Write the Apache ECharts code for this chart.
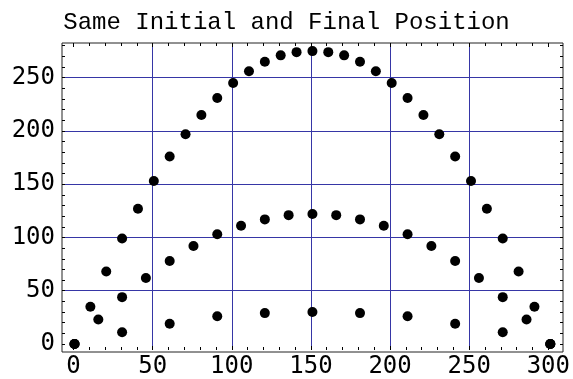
<!doctype html>
<html>
    <head>
        <meta charset="utf-8">
        <style>
            html, body { margin: 0; padding: 0; background: #fff; }
            #main { width: 573px; height: 379px; }
        </style>
    </head>
    <body>
        <div id="main"></div>
        <script src="https://cdn.jsdelivr.net/npm/echarts@6/dist/echarts.min.js"></script>
        <script>
            var chart = echarts.init(document.getElementById('main'));

            var title = 'Same Initial and Final Position';

            // high throw, one dot every 10 m
            var highX = [0, 10, 20, 30, 40, 50, 60, 70, 80, 90, 100, 110, 120, 130, 140, 150,
                160, 170, 180, 190, 200, 210, 220, 230, 240, 250, 260, 270, 280, 290, 300];
            var highY = [0, 35, 68, 99, 127, 153, 176, 197, 215, 231, 245, 256, 265, 271, 274, 275,
                274, 271, 265, 256, 245, 231, 215, 197, 176, 153, 127, 99, 68, 35, 0];

            // middle throw, every 15 m
            var midX = [0, 15, 30, 45, 60, 75, 90, 105, 120, 135, 150,
                165, 180, 195, 210, 225, 240, 255, 270, 285, 300];
            var midY = [0, 23, 44, 62, 78, 92, 103, 111, 117, 121, 122,
                121, 117, 111, 103, 92, 78, 62, 44, 23, 0];

            // low throw, every 30 m
            var lowX = [0, 30, 60, 90, 120, 150, 180, 210, 240, 270, 300];
            var lowY = [0, 11, 19, 26, 29, 30, 29, 26, 19, 11, 0];

            var xTicks = [0, 50, 100, 150, 200, 250, 300];
            var yTicks = [0, 50, 100, 150, 200, 250];

            // plot range of the frame (a bit wider than the data)
            var X_MIN = -7.9, X_MAX = 308;
            var Y_MIN = -7.5, Y_MAX = 282.6;
            var Y_TOP_TICK = 280;

            var FONT = 'DejaVu Sans Mono';
            var GRID_COLOR = '#3636a6';

            function pairs(xs, ys) {
                return xs.map(function (x, i) { return [x, ys[i]]; });
            }

            // one split line per 10 units on y, coloured only at the labelled values
            var yLineColors = [];
            for (var v = 0; v <= Y_TOP_TICK; v += 10) {
                yLineColors.push(yTicks.indexOf(v) > 0 ? GRID_COLOR : 'rgba(0,0,0,0)');
            }

            var tickStyle = { color: '#000', width: 1 };

            function dotSeries(xs, ys) {
                return {
                    type: 'scatter',
                    xAxisIndex: 0,
                    yAxisIndex: 0,
                    data: pairs(xs, ys),
                    symbol: 'circle',
                    symbolSize: 10,
                    clip: false,
                    silent: true,
                    itemStyle: { color: '#000', opacity: 1 },
                    z: 5
                };
            }

            chart.setOption({
                animation: false,
                backgroundColor: '#fff',
                title: {
                    text: title,
                    left: 'center',
                    top: 6,
                    textStyle: {
                        fontFamily: 'Liberation Mono',
                        fontSize: 24,
                        fontWeight: 'normal',
                        color: '#000'
                    }
                },
                grid: [
                    // frame + data
                    { left: 62, right: 10, top: 43, bottom: 27, show: true,
                      borderColor: '#222', borderWidth: 1, backgroundColor: 'transparent' },
                    // x ticks / vertical lines, spans 0..300
                    { left: 73.5, right: 22.7, top: 43, bottom: 27 },
                    // y ticks / horizontal lines, spans 0..280
                    { left: 62, right: 10, top: 45.7, bottom: 35 }
                ],
                xAxis: [
                    { gridIndex: 0, type: 'value', min: X_MIN, max: X_MAX, show: false },
                    {
                        gridIndex: 1, type: 'value', position: 'bottom',
                        min: xTicks[0], max: xTicks[xTicks.length - 1], interval: 50,
                        axisLine: { show: false },
                        axisTick: { show: true, inside: true, length: 4, lineStyle: tickStyle },
                        minorTick: { show: true, splitNumber: 5, length: 3, lineStyle: tickStyle },
                        axisLabel: { fontFamily: FONT, fontSize: 24, color: '#000', margin: 5 },
                        splitLine: { show: true, showMinLine: false, showMaxLine: false,
                                     lineStyle: { color: GRID_COLOR, width: 1 } }
                    },
                    {
                        gridIndex: 1, type: 'value', position: 'top',
                        min: xTicks[0], max: xTicks[xTicks.length - 1], interval: 50,
                        axisLine: { show: false },
                        axisTick: { show: true, inside: true, length: 4, lineStyle: tickStyle },
                        minorTick: { show: true, splitNumber: 5, length: 3, lineStyle: tickStyle },
                        axisLabel: { show: false },
                        splitLine: { show: false }
                    },
                    { gridIndex: 2, type: 'value', min: 0, max: 1, show: false }
                ],
                yAxis: [
                    { gridIndex: 0, type: 'value', min: Y_MIN, max: Y_MAX, show: false },
                    { gridIndex: 1, type: 'value', min: 0, max: 1, show: false },
                    {
                        gridIndex: 2, type: 'value', position: 'left',
                        min: 0, max: Y_TOP_TICK, interval: 10,
                        axisLine: { show: false },
                        axisTick: { show: true, inside: true, length: 3, lineStyle: tickStyle },
                        axisLabel: {
                            fontFamily: FONT, fontSize: 24, color: '#000', margin: 7,
                            formatter: function (val) {
                                return yTicks.indexOf(val) >= 0 ? String(val) : '';
                            }
                        },
                        splitLine: { show: true, lineStyle: { color: yLineColors, width: 1 } }
                    },
                    {
                        gridIndex: 2, type: 'value', position: 'right',
                        min: 0, max: Y_TOP_TICK, interval: 10,
                        axisLine: { show: false },
                        axisTick: { show: true, inside: true, length: 3, lineStyle: tickStyle },
                        axisLabel: { show: false },
                        splitLine: { show: false }
                    }
                ],
                series: [
                    dotSeries(highX, highY),
                    dotSeries(midX, midY),
                    dotSeries(lowX, lowY)
                ]
            });

            window.addEventListener('resize', function () {
                chart.resize();
            });
        </script>
    </body>
</html>
